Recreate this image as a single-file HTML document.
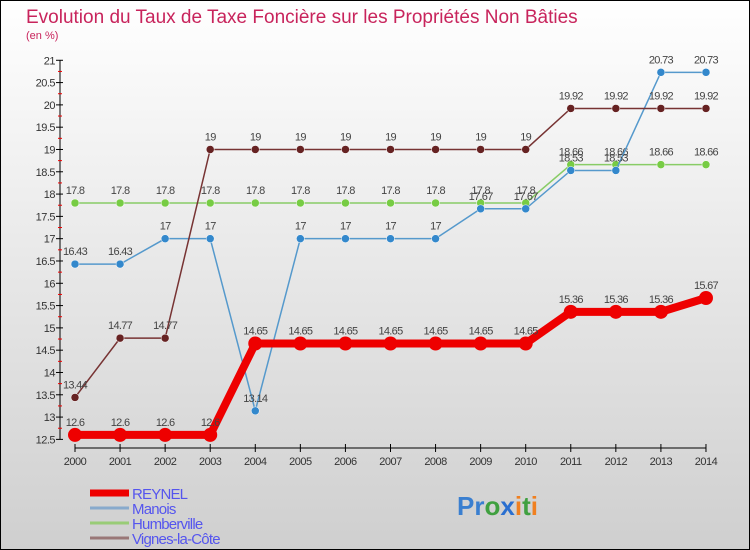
<!DOCTYPE html>
<html><head><meta charset="utf-8"><style>
body{margin:0;width:750px;height:550px;overflow:hidden;font-family:"Liberation Sans",sans-serif}
svg{display:block}
</style></head><body>
<svg width="750" height="550" xmlns="http://www.w3.org/2000/svg">
<defs><linearGradient id="bg" x1="0" y1="0" x2="0" y2="1"><stop offset="0" stop-color="#ffffff"/><stop offset="1" stop-color="#cfcfcf"/></linearGradient></defs>
<rect x="0.5" y="0.5" width="749" height="549" fill="url(#bg)" stroke="#000"/>
<text x="26" y="23" font-size="19" fill="#c8245c">Evolution du Taux de Taxe Foncière sur les Propriétés Non Bâties</text>
<text x="26" y="39" font-size="11" fill="#c8245c">(en %)</text>
<g id="axes"></g>
<g id="series"></g>
<g id="legend"></g>
<text x="457" y="515" font-size="26" font-weight="bold"><tspan fill="#3a7fd0">Pr</tspan><tspan fill="#40a040">o</tspan><tspan fill="#2a6fd0">x</tspan><tspan fill="#f08020">i</tspan><tspan fill="#40a040">t</tspan><tspan fill="#f08020">i</tspan></text>
</svg>
<script>
const years=[2000,2001,2002,2003,2004,2005,2006,2007,2008,2009,2010,2011,2012,2013,2014];
const reynel=[12.6,12.6,12.6,12.6,14.65,14.65,14.65,14.65,14.65,14.65,14.65,15.36,15.36,15.36,15.67];
const manois=[16.43,16.43,17,17,13.14,17,17,17,17,17.67,17.67,18.53,18.53,20.73,20.73];
const humberville=[17.8,17.8,17.8,17.8,17.8,17.8,17.8,17.8,17.8,17.8,17.8,18.66,18.66,18.66,18.66];
const vignes=[13.44,14.77,14.77,19,19,19,19,19,19,19,19,19.92,19.92,19.92,19.92];
const yTicks=[12.5,13,13.5,14,14.5,15,15.5,16,16.5,17,17.5,18,18.5,19,19.5,20,20.5,21];
const NS="http://www.w3.org/2000/svg";
function x(i){return 75+i*45.07;}
function y(v){return 203+(17.8-v)*44.6;}
function mk(t,a,p){const e=document.createElementNS(NS,t);for(const k in a)e.setAttribute(k,a[k]);p.appendChild(e);return e;}
const axes=document.getElementById('axes');
let e=mk('line',{x1:60,y1:y(21),x2:60,y2:y(12.5),stroke:'#000'},axes);


e=mk('line',{x1:x(0),y1:448,x2:x(14),y2:448,stroke:'#000'},axes);


yTicks.forEach((v,i)=>{
  mk('line',{x1:56,y1:y(v),x2:63,y2:y(v),stroke:'#000'},axes);
  if(i<yTicks.length-1)mk('line',{x1:58,y1:y(v+0.25),x2:62,y2:y(v+0.25),stroke:'#e00'},axes);
  const t=mk('text',{x:55,y:y(v)+4,'font-size':11,'text-anchor':'end',fill:'#333','letter-spacing':'-0.5'},axes);
  t.textContent=v;
  
  
});
years.forEach((yr,i)=>{
  mk('line',{x1:x(i),y1:444,x2:x(i),y2:452,stroke:'#000'},axes);
  const t=mk('text',{x:x(i),y:465,'font-size':11,'text-anchor':'middle',fill:'#333','letter-spacing':'-0.5'},axes);
  t.textContent=yr;
  
  
});
const ser=document.getElementById('series');
function draw(vals,color,w,r,name,dot){
  const g=mk('g',{},ser);
  
  
  const l=mk('polyline',{points:vals.map((v,i)=>x(i)+','+y(v)).join(' '),fill:'none',stroke:color,'stroke-width':w},g);
  
  
  vals.forEach((v,i)=>{
    const c=mk('circle',{cx:x(i),cy:y(v),r:r,fill:dot,stroke:'#fff','stroke-width':r>5?0:0.5},g);
    
    
    const t=mk('text',{x:x(i),y:y(v)-9,'font-size':11,'text-anchor':'middle',fill:'#444','letter-spacing':'-0.7'},g);
    t.textContent=v;
    
    
  });
}
draw(humberville,'#88cc66',1.5,4,'humberville','#77cc44');
draw(manois,'#5599cc',1.5,4,'manois','#3388cc');
draw(vignes,'#773333',1.5,4,'vignes-la-cote','#662222');
draw(reynel,'#ee0000',8,7,'reynel','#ee0000');
const leg=document.getElementById('legend');
[['REYNEL','#ee0000',7],['Manois','#88aacc',3],['Humberville','#99cc77',3],['Vignes-la-Côte','#997777',3]].forEach((d,i)=>{
  const yy=493+i*15;
  const l=mk('line',{x1:90,y1:yy,x2:129,y2:yy,stroke:d[1],'stroke-width':d[2]},leg);
  
  
  const t=mk('text',{x:132,y:yy+6,'font-size':15,fill:'#5555ee','letter-spacing':'-0.8'},leg);
  t.textContent=d[0];
  
  
});
</script>
</body></html>
